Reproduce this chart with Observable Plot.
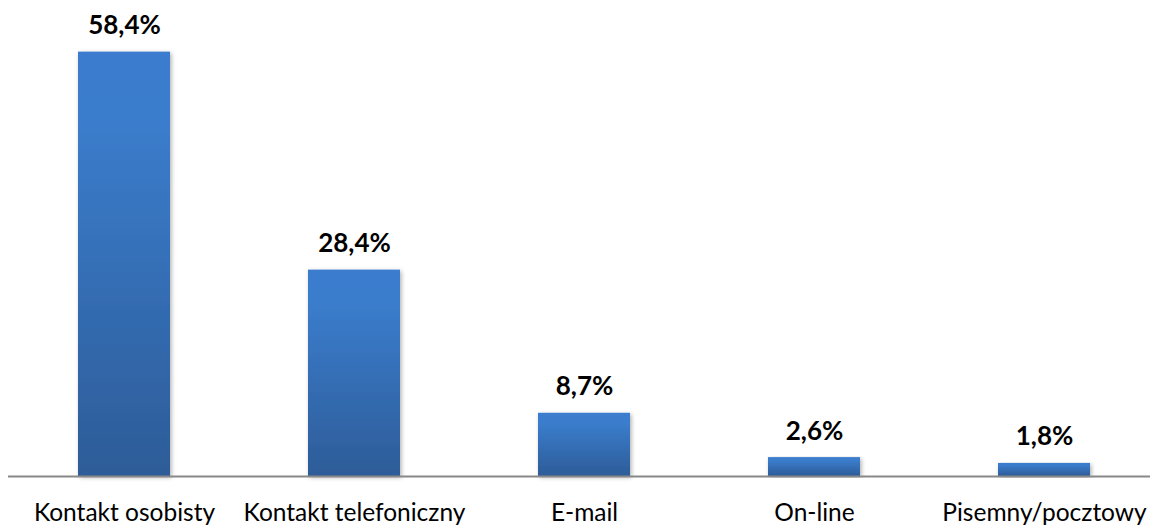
<!DOCTYPE html>
<html>
<head>
<meta charset="utf-8">
<script src="https://cdn.jsdelivr.net/npm/d3@7"></script>
<script src="https://cdn.jsdelivr.net/npm/@observablehq/plot@0.6"></script>
<style>
  html, body { margin: 0; padding: 0; background: #fff; }
  #chart { width: 1153px; height: 525px; }
</style>
</head>
<body>
<div id="chart"></div>
<script>
const categories = ["Kontakt osobisty", "Kontakt telefoniczny", "E-mail", "On-line", "Pisemny/pocztowy"];
const values = [58.4, 28.4, 8.7, 2.6, 1.8];
const valueLabels = ["58,4%", "28,4%", "8,7%", "2,6%", "1,8%"];

const data = categories.map((c, i) => ({category: c, value: values[i], label: valueLabels[i]}));

const defs = () => {
  const ns = "http://www.w3.org/2000/svg";
  const d = document.createElementNS(ns, "defs");
  d.innerHTML = `
    <linearGradient id="barGrad" x1="0" y1="0" x2="0" y2="1">
      <stop offset="0" stop-color="#3a7cce"/>
      <stop offset="0.15" stop-color="#3b7dcd"/>
      <stop offset="1" stop-color="#2d5c98"/>
    </linearGradient>
    <filter id="barShadow" x="-20%" y="-5%" width="140%" height="115%">
      <feDropShadow dx="1.5" dy="1.5" stdDeviation="2" flood-color="#000" flood-opacity="0.3"/>
    </filter>`;
  return d;
};

const font = "Lato, 'Open Sans', sans-serif";

const chart = Plot.plot({
  width: 1153,
  height: 525,
  marginTop: 40,
  marginBottom: 49,
  marginLeft: 8,
  marginRight: 3,
  style: {fontFamily: font, background: "#fff"},
  x: {domain: categories, range: [8, 1159.25], paddingInner: 0.6, paddingOuter: 0.3, axis: null},
  y: {domain: [0, 60], axis: null},
  marks: [
    defs,
    Plot.barY(data, {x: "category", y: "value", fill: "url(#barGrad)"}),
    Plot.ruleY([0], {stroke: "#888888", strokeWidth: 2}),
    Plot.text(data, {x: "category", y: "value", text: "label", dy: -18, lineAnchor: "bottom", fontSize: 26, fontWeight: "bold", fill: "#000"}),
    Plot.text(data, {x: "category", y: 0, text: "category", dy: 44, lineAnchor: "bottom", fontSize: 24.5, fill: "#000"})
  ]
});
chart.querySelectorAll("g[aria-label='bar'] rect").forEach(r => r.setAttribute("filter", "url(#barShadow)"));
document.getElementById("chart").appendChild(chart);
</script>
</body>
</html>
